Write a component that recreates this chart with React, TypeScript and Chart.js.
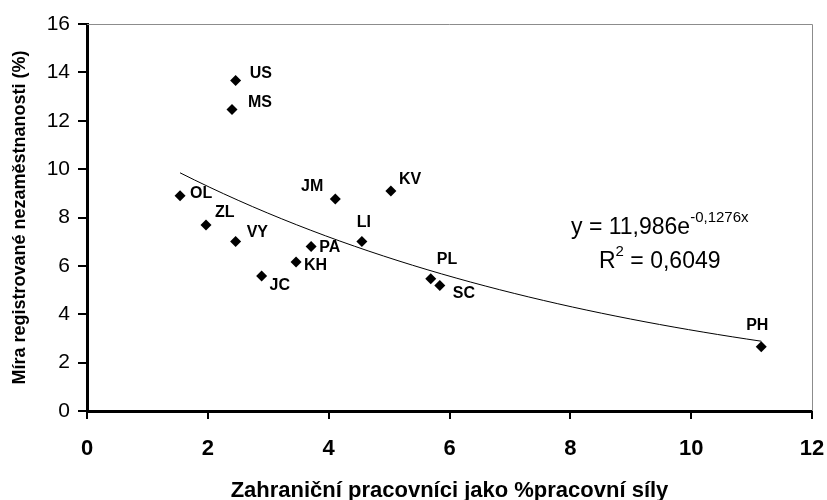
import React, { useEffect, useRef } from "react";
import { Chart, registerables } from "chart.js";

Chart.register(...registerables);

// ---- data ----
const regions = ["US", "MS", "OL", "ZL", "VY", "JM", "KV", "LI", "PA", "KH", "JC", "PL", "SC", "PH"];
const foreignWorkersPct = [2.46, 2.4, 1.54, 1.97, 2.46, 4.11, 5.03, 4.55, 3.71, 3.46, 2.89, 5.69, 5.84, 11.16];
const unemploymentPct = [13.66, 12.46, 8.9, 7.69, 7.01, 8.77, 9.1, 7.01, 6.8, 6.16, 5.58, 5.47, 5.19, 2.66];

// exponential trendline shown on the chart: y = 11,986 e^(-0,1276x), R² = 0,6049
const trendA = 11.986;
const trendB = -0.1276;
const trendEquationMain = "y = 11,986e";
const trendEquationExp = "-0,1276x";
const trendR2Label = "R";
const trendR2Exp = "2";
const trendR2Value = " = 0,6049";

const xTitle = "Zahraniční pracovníci jako %pracovní síly";
const yTitle = "Míra registrované nezaměstnanosti (%)";

// ---- styling: label placement relative to each marker (px) ----
const labelOffsets: Record<string, [number, number, CanvasTextAlign]> = {
  US: [14, -7, "left"],
  MS: [16, -7, "left"],
  OL: [10, -2, "left"],
  ZL: [9, -12, "left"],
  VY: [11, -9, "left"],
  JM: [-12, -12, "right"],
  KV: [8, -11, "left"],
  LI: [2, -19, "center"],
  PA: [8, 1, "left"],
  KH: [8, 4, "left"],
  JC: [8, 10, "left"],
  PL: [6, -19, "left"],
  SC: [13, 8, "left"],
  PH: [-4, -21, "center"],
};

const FONT = "Arial, 'Liberation Sans', Helvetica, sans-serif";

const pointLabelsPlugin = {
  id: "pointLabels",
  afterDatasetsDraw(chart: any) {
    const meta = chart.getDatasetMeta(0);
    const ctx = chart.ctx;
    ctx.save();
    ctx.fillStyle = "#000";
    ctx.font = `bold 16px ${FONT}`;
    ctx.textBaseline = "middle";
    meta.data.forEach((el: any, i: number) => {
      const name = regions[i];
      const [dx, dy, align] = labelOffsets[name] || [8, 0, "left"];
      ctx.textAlign = align;
      ctx.fillText(name, el.x + dx, el.y + dy);
    });
    ctx.restore();
  },
};

const frameAndEquationPlugin = {
  id: "frameAndEquation",
  afterDraw(chart: any) {
    const { ctx, chartArea } = chart;
    const { left, right, top, bottom } = chartArea;
    ctx.save();
    ctx.strokeStyle = "#8c8c8c";
    ctx.lineWidth = 1;
    ctx.beginPath();
    ctx.moveTo(left, top + 0.5);
    ctx.lineTo(right + 0.5, top + 0.5);
    ctx.lineTo(right + 0.5, bottom);
    ctx.stroke();

    // trendline equation, centred block
    const cx = left + (right - left) * 0.79;
    const base1 = top + (bottom - top) * 0.543;
    const base2 = base1 + 34;
    const mainFont = `23px ${FONT}`;
    const supFont = `15px ${FONT}`;
    const raise = 12;
    ctx.fillStyle = "#000";
    ctx.textBaseline = "alphabetic";
    ctx.textAlign = "left";

    ctx.font = mainFont;
    const w1a = ctx.measureText(trendEquationMain).width;
    ctx.font = supFont;
    const w1b = ctx.measureText(trendEquationExp).width;
    let x = cx - (w1a + w1b) / 2;
    ctx.font = mainFont;
    ctx.fillText(trendEquationMain, x, base1);
    ctx.font = supFont;
    ctx.fillText(trendEquationExp, x + w1a, base1 - raise);

    ctx.font = mainFont;
    const w2a = ctx.measureText(trendR2Label).width;
    const w2c = ctx.measureText(trendR2Value).width;
    ctx.font = supFont;
    const w2b = ctx.measureText(trendR2Exp).width;
    x = cx - (w2a + w2b + w2c) / 2;
    ctx.font = mainFont;
    ctx.fillText(trendR2Label, x, base2);
    ctx.font = supFont;
    ctx.fillText(trendR2Exp, x + w2a, base2 - raise);
    ctx.font = mainFont;
    ctx.fillText(trendR2Value, x + w2a + w2b, base2);
    ctx.restore();
  },
};

export default function App() {
  const canvasRef = useRef<HTMLCanvasElement | null>(null);

  useEffect(() => {
    document.body.style.margin = "0";
    const canvas = canvasRef.current;
    if (!canvas) return;

    const points = foreignWorkersPct.map((x, i) => ({ x, y: unemploymentPct[i] }));
    const xMin = Math.min(...foreignWorkersPct);
    const xMax = Math.max(...foreignWorkersPct);
    const steps = 40;
    const trend: { x: number; y: number }[] = [];
    for (let k = 0; k <= steps; k++) {
      const x = xMin + ((xMax - xMin) * k) / steps;
      trend.push({ x, y: trendA * Math.exp(trendB * x) });
    }

    const chart = new Chart(canvas, {
      type: "scatter",
      data: {
        datasets: [
          {
            label: "Regiony",
            data: points,
            pointStyle: "rectRot",
            pointRadius: 5.5,
            pointHoverRadius: 5.5,
            backgroundColor: "#000",
            borderColor: "#000",
            borderWidth: 0,
            order: 1,
          },
          {
            type: "line",
            label: "Trend",
            data: trend,
            borderColor: "#000",
            borderWidth: 1,
            pointRadius: 0,
            fill: false,
            tension: 0,
            order: 2,
          } as any,
        ],
      },
      options: {
        responsive: false,
        animation: false,
        devicePixelRatio: 1,
        layout: { padding: { top: 24, right: 15, left: 0, bottom: 0 } },
        plugins: {
          legend: { display: false },
          tooltip: { enabled: false },
        },
        scales: {
          x: {
            type: "linear",
            min: 0,
            max: 12,
            ticks: {
              stepSize: 2,
              color: "#000",
              font: { family: FONT, size: 22, weight: "bold" },
              padding: 17,
              maxRotation: 0,
            },
            grid: {
              drawOnChartArea: false,
              drawTicks: true,
              tickLength: 8,
              color: "#000",
              lineWidth: 2,
            },
            border: { display: true, color: "#000", width: 3 },
            title: {
              display: true,
              text: xTitle,
              color: "#000",
              font: { family: FONT, size: 22, weight: "bold", lineHeight: 1 },
              padding: { top: 0, bottom: -2 },
            },
            afterFit(scale: any) {
              scale.height = 89;
              scale.paddingLeft = 0;
              scale.paddingRight = 0;
            },
          },
          y: {
            type: "linear",
            min: 0,
            max: 16,
            ticks: {
              stepSize: 2,
              color: "#000",
              font: { family: FONT, size: 21 },
              padding: 8,
            },
            grid: {
              drawOnChartArea: false,
              drawTicks: true,
              tickLength: 9,
              color: "#000",
              lineWidth: 2,
            },
            border: { display: true, color: "#000", width: 3 },
            title: {
              display: true,
              text: yTitle,
              color: "#000",
              font: { family: FONT, size: 18, weight: "bold" },
              padding: { top: 9, bottom: 0 },
            },
            afterFit(scale: any) {
              scale.width = 87;
              scale.paddingTop = 0;
              scale.paddingBottom = 0;
            },
          },
        },
      },
      plugins: [frameAndEquationPlugin, pointLabelsPlugin],
    });

    return () => chart.destroy();
  }, []);

  return (
    <div style={{ width: 827, height: 500, background: "#fff" }}>
      <canvas ref={canvasRef} width={827} height={500} />
    </div>
  );
}
